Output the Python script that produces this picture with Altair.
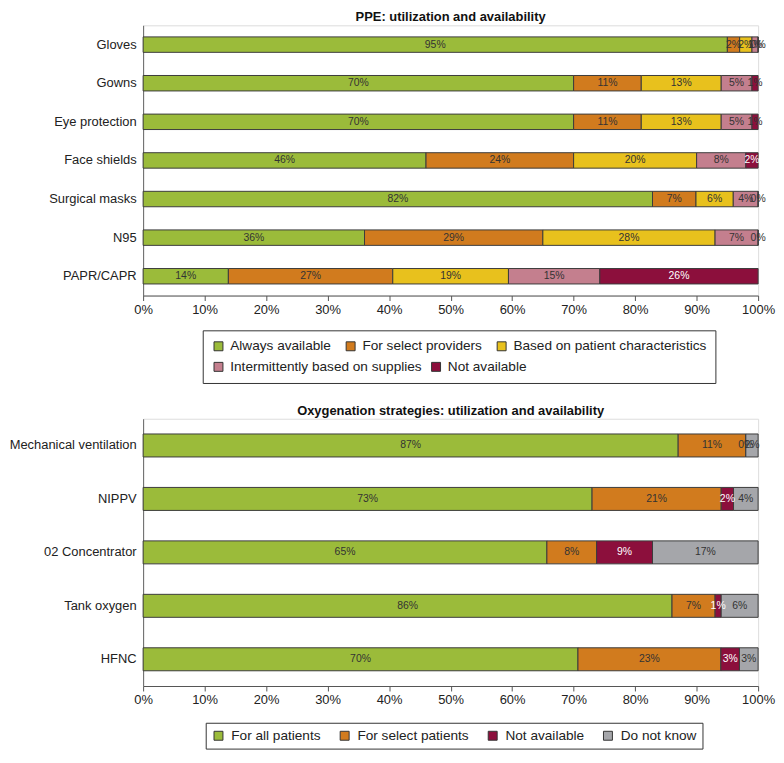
import altair as alt
import pandas as pd

FONT = "Liberation Sans"

# ---------------- PPE data ----------------
ppe_items = ["Gloves", "Gowns", "Eye protection", "Face shields",
             "Surgical masks", "N95", "PAPR/CAPR"]
ppe_cats = ["Always available", "For select providers",
            "Based on patient characteristics",
            "Intermittently based on supplies", "Not available"]
ppe_colors = ["#9BBB3A", "#D17B1E", "#E8C11D", "#C47F8E", "#8C0F3C"]
ppe_always = [95, 70, 70, 46, 82, 36, 14]
ppe_select = [2, 11, 11, 24, 7, 29, 27]
ppe_patient = [2, 13, 13, 20, 6, 28, 19]
ppe_intermittent = [1, 5, 5, 8, 4, 7, 15]
ppe_not_avail = [0, 1, 1, 2, 0, 0, 26]

# ---------------- Oxygenation data ----------------
oxy_items = ["Mechanical ventilation", "NIPPV", "02 Concentrator",
             "Tank oxygen", "HFNC"]
oxy_cats = ["For all patients", "For select patients", "Not available",
            "Do not know"]
oxy_colors = ["#9BBB3A", "#D17B1E", "#8C0F3C", "#A5A6AA"]
oxy_all = [87, 73, 65, 86, 70]
oxy_select = [11, 21, 8, 7, 23]
oxy_not_avail = [0, 2, 9, 1, 3]
oxy_unknown = [2, 4, 17, 6, 3]

x_ticks = [0, 0.1, 0.2, 0.3, 0.4, 0.5, 0.6, 0.7, 0.8, 0.9, 1.0]
LEG_FS = 13.7


def long_df(items, cats, series):
    rows = []
    for ci, (cat, vals) in enumerate(zip(cats, series)):
        for item, v in zip(items, vals):
            rows.append({"item": item, "category": cat, "order": ci, "value": v})
    return pd.DataFrame(rows)


def legend(**kw):
    base = dict(title=None, orient="none", direction="horizontal",
                symbolType="square", symbolSize=81,
                symbolStrokeColor="#333", symbolStrokeWidth=1,
                symbolOpacity=1, labelLimit=400,
                labelFontSize=LEG_FS, labelColor="#222", labelFont=FONT)
    base.update(kw)
    return alt.Legend(**base)


def panel(df, items, cats, colors, title, height, pad_inner,
          legend_groups, white_test):
    base = alt.Chart(df).transform_joinaggregate(
        total="sum(value)", groupby=["item"]
    ).transform_window(
        cum="sum(value)", sort=[alt.SortField("order")],
        groupby=["item"], frame=[None, 0]
    ).transform_calculate(
        x0="(datum.cum - datum.value) / datum.total",
        x1="datum.cum / datum.total",
        xm="(datum.cum - datum.value / 2) / datum.total",
        label="datum.value + '%'"
    )
    y_enc = alt.Y(
        "item:N", sort=items, title=None,
        scale=alt.Scale(paddingInner=pad_inner, paddingOuter=pad_inner / 2),
        axis=alt.Axis(ticks=False, labelPadding=7, domainColor="#666",
                      labelFontSize=13, labelColor="#222", labelFont=FONT,
                      labelLimit=300),
    )
    x_enc = alt.X(
        "x0:Q", title=None,
        scale=alt.Scale(domain=[0, 1], nice=False, zero=True),
        axis=alt.Axis(format="%", values=x_ticks, grid=False, tickSize=5,
                      tickColor="#555", domainColor="#555",
                      labelFontSize=13, labelColor="#222", labelFont=FONT,
                      labelFlush=False, labelPadding=3),
    )
    bars = base.mark_bar(stroke="#3b3b3b", strokeWidth=1).encode(
        x=x_enc,
        x2="x1:Q",
        y=y_enc,
        color=alt.Color("category:N",
                        scale=alt.Scale(domain=cats, range=colors),
                        legend=None),
    )
    text = base.mark_text(fontSize=10.5, font=FONT).encode(
        x=alt.X("xm:Q"),
        y=alt.Y("item:N", sort=items),
        text="label:N",
        color=alt.condition(white_test, alt.value("#ffffff"), alt.value("#333333")),
    )
    layers = [bars, text]
    # invisible point layers that carry the legends (one per legend row)
    for idxs, leg in legend_groups:
        sub_cats = [cats[i] for i in idxs]
        sub_cols = [colors[i] for i in idxs]
        layers.append(
            base.transform_filter(
                alt.FieldOneOfPredicate(field="category", oneOf=sub_cats)
            ).mark_point(opacity=0, filled=True, shape="square").encode(
                x=alt.X("xm:Q"),
                y=alt.Y("item:N", sort=items),
                color=alt.Color("category:N",
                                scale=alt.Scale(domain=sub_cats, range=sub_cols),
                                legend=leg),
            )
        )
    return alt.layer(*layers).resolve_scale(color="independent").properties(
        width=619, height=height,
        title=alt.TitleParams(title, fontSize=13, fontWeight="bold",
                              anchor="middle", frame="group", offset=1,
                              color="#111", font=FONT),
    )


ppe_df = long_df(ppe_items, ppe_cats,
                 [ppe_always, ppe_select, ppe_patient, ppe_intermittent, ppe_not_avail])
oxy_df = long_df(oxy_items, oxy_cats,
                 [oxy_all, oxy_select, oxy_not_avail, oxy_unknown])

PPE_H = 272
PPE_LY = PPE_H + 35
ppe_legends = [
    ([0, 1, 2], legend(legendX=60, legendY=PPE_LY, padding=9,
                       strokeColor="#333", labelOffset=5, columnPadding=13,
                       title=" ", titleOrient="bottom", titleFontSize=LEG_FS,
                       titlePadding=7)),
    ([3, 4], legend(legendX=69, legendY=PPE_LY + 9 + LEG_FS + 7, padding=0,
                    labelOffset=5, columnPadding=7)),
]

OXY_H = 269
oxy_legends = [
    ([0, 1, 2, 3], legend(legendX=63, legendY=OXY_H + 37, padding=6,
                          strokeColor="#333", fillColor="white",
                          labelOffset=6, columnPadding=17)),
]

top = panel(ppe_df, ppe_items, ppe_cats, ppe_colors,
            "PPE: utilization and availability", PPE_H, 0.6,
            ppe_legends,
            "datum.category == 'Not available' && datum.value >= 2")
bottom = panel(oxy_df, oxy_items, oxy_cats, oxy_colors,
               "Oxygenation strategies: utilization and availability", OXY_H, 0.57,
               oxy_legends,
               "datum.category == 'Not available' && datum.value > 0")

chart = alt.vconcat(top, bottom, spacing=20).resolve_scale(
    color="independent", y="independent", x="independent"
).properties(padding=0).configure_view(stroke=None).configure(font=FONT)

chart.save("out.html", embed_options={"renderer": "svg", "actions": False})
